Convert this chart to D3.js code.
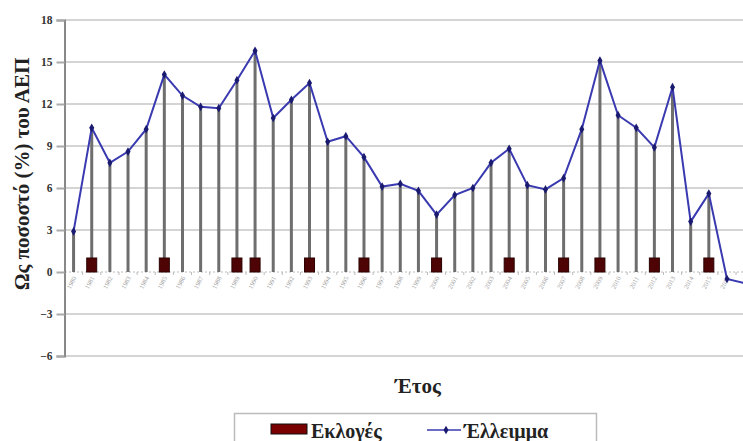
<!DOCTYPE html>
<html><head><meta charset="utf-8">
<script src="https://cdn.jsdelivr.net/npm/d3@7"></script>
<style>body{margin:0;background:#fff}svg{display:block}</style>
</head><body><svg id="c" width="743" height="441"></svg>
<script>
const years = d3.range(1980, 2020).map(String);
const deficit = [2.9,10.3,7.8,8.6,10.2,14.1,12.6,11.8,11.7,13.7,15.8,11.0,12.3,13.5,9.3,9.7,8.2,6.1,6.3,5.8,4.1,5.5,6.0,7.8,8.8,6.2,5.9,6.7,10.2,15.1,11.2,10.3,8.9,13.2,3.6,5.6,-0.5,-0.8,-1.0,-1.5];
const electionYears = ["1981","1985","1989","1990","1993","1996","2000","2004","2007","2009","2012","2015","2019"];
const electionValue = 1;
const yTicks = [-6,-3,0,3,6,9,12,15,18];
const labels = {y:"Ως ποσοστό (%) του ΑΕΠ", x:"Έτος", bars:"Εκλογές", line:"Έλλειμμα"};

const svg = d3.select("#c");
const font = "'Liberation Serif','Times New Roman',serif";
const x = d3.scaleBand().domain(years).range([64.5, 64.5 + 40*18.15]);
const y = d3.scaleLinear().domain([-6,18]).range([356,20]);
const cx = d => x(d) + x.bandwidth()/2;
const visibleYears = years.filter(d => cx(d) < 745);

// gridlines
svg.append("g").selectAll("line").data(yTicks).join("line")
  .attr("x1",65).attr("x2",743).attr("y1",d=>y(d)).attr("y2",d=>y(d))
  .attr("stroke", d=> d===0 ? "none" : "#d4d4d4").attr("stroke-width",2);

// zero line (dotted) with small ticks
svg.append("line").attr("x1",65).attr("x2",743).attr("y1",y(0)).attr("y2",y(0))
  .attr("stroke","#bbb").attr("stroke-width",1.2).attr("stroke-dasharray","2,2");
svg.append("g").selectAll("line").data(years).join("line")
  .attr("x1",d=>x(d)).attr("x2",d=>x(d)).attr("y1",y(0)).attr("y2",y(0)+3)
  .attr("stroke","#bbb").attr("stroke-width",1);

// y axis
const yAxis = d3.axisLeft(y).tickValues(yTicks).tickSize(8).tickPadding(4);
const ga = svg.append("g").attr("transform","translate(64.5,0)").call(yAxis);
ga.select(".domain").attr("stroke","#888").attr("stroke-width",2);
ga.selectAll(".tick line").attr("stroke","#aaa").attr("stroke-width",2);
ga.selectAll(".tick text").attr("font-family",font).attr("font-weight","bold")
  .attr("font-size",11.5).attr("fill","#333");

// x tick labels (tiny rotated)
svg.append("g").selectAll("text").data(visibleYears.filter(d => cx(d) < 735)).join("text")
  .attr("transform",d=>`translate(${cx(d)+3},${y(0)+6}) rotate(-62)`)
  .attr("text-anchor","end").attr("font-family",font).attr("font-size",6.5)
  .attr("fill","#999").text(d=>d);

// drop lines
svg.append("g").selectAll("line").data(years.filter((d,i)=>deficit[i]>0)).join("line")
  .attr("x1",cx).attr("x2",cx).attr("y1",d=>y(deficit[years.indexOf(d)])).attr("y2",y(0))
  .attr("stroke","#6e6e6e").attr("stroke-width",3);

// election bars
svg.append("g").selectAll("rect").data(electionYears).join("rect")
  .attr("x",d=>cx(d)-5).attr("width",10)
  .attr("y",y(electionValue)).attr("height",y(0)-y(electionValue))
  .attr("fill","#4e0404").attr("stroke","#2a0000").attr("stroke-width",1);

// deficit line
const line = d3.line().x((d,i)=>cx(years[i])).y(d=>y(d));
svg.append("path").datum(deficit).attr("d",line).attr("fill","none")
  .attr("stroke","#3a3ab0").attr("stroke-width",2);
svg.append("g").selectAll("path").data(deficit).join("path")
  .attr("d",d3.symbol(d3.symbolDiamond,22))
  .attr("transform",(d,i)=>`translate(${cx(years[i])},${y(d)})`)
  .attr("fill","#1a1a70");

// axis titles
svg.append("text").attr("transform","translate(29,174) rotate(-90)")
  .attr("text-anchor","middle").attr("font-family",font).attr("font-weight","bold")
  .attr("font-size",21).attr("fill","#222").text(labels.y);
svg.append("text").attr("x",418).attr("y",393).attr("text-anchor","middle")
  .attr("font-family",font).attr("font-weight","bold").attr("font-size",21)
  .attr("fill","#222").text(labels.x);

// legend
const lg = svg.append("g");
lg.append("rect").attr("x",234.5).attr("y",413.5).attr("width",362).attr("height",40)
  .attr("fill","#fff").attr("stroke","#bbb").attr("stroke-width",1.5);
lg.append("rect").attr("x",271).attr("y",424).attr("width",36).attr("height",10)
  .attr("fill","#7a0000").attr("stroke","#111").attr("stroke-width",1);
lg.append("text").attr("x",311).attr("y",438).attr("font-family",font).attr("font-weight","bold")
  .attr("font-size",20).attr("fill","#222").text(labels.bars);
lg.append("line").attr("x1",427).attr("x2",461).attr("y1",430).attr("y2",430)
  .attr("stroke","#3a3ab0").attr("stroke-width",1.5);
lg.append("path").attr("d",d3.symbol(d3.symbolDiamond,22)).attr("transform","translate(446,430)")
  .attr("fill","#1a1a70");
lg.append("text").attr("x",464).attr("y",438).attr("font-family",font).attr("font-weight","bold")
  .attr("font-size",20).attr("fill","#222").text(labels.line);
</script></body></html>
